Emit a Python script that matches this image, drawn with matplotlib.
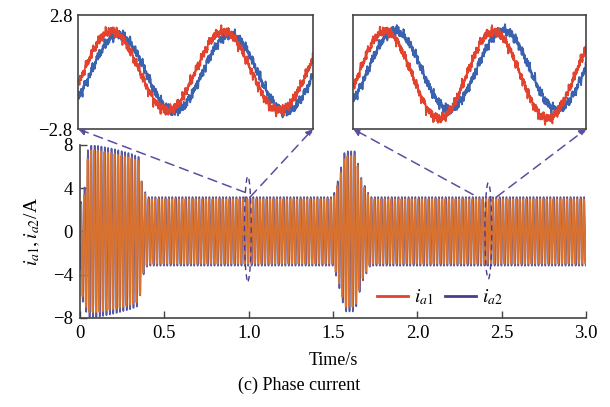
import numpy as np
import matplotlib.pyplot as plt
from matplotlib.lines import Line2D
from matplotlib.patches import ConnectionPatch, Ellipse

# ---- data ----
# envelope of the phase current (time in s, amplitude in A)
env_t = [0.0, 0.02, 0.05, 0.10, 0.20, 0.30, 0.35, 0.37, 0.40, 1.50, 1.53,
         1.57, 1.63, 1.67, 1.72, 3.0]
env_a = [3.5, 4.5, 7.5, 7.5, 7.2, 6.8, 6.5, 4.0, 3.0, 3.0, 4.5, 7.0, 7.0,
         4.5, 3.0, 3.0]
# start-up dc offset
off_t = [0.0, 0.02, 0.05]
off_v = [-1.0, -2.0, 0.0]
freq_hz = 50.0
lag_main = 0.12   # i_a2 lags i_a1, in cycles
amp_ratio2 = 1.06  # i_a2 peaks poke out of the i_a1 band

# zoomed windows (cycles shown, lag of i_a2, amplitudes, offsets)
zoom_centers = [0.995, 2.42]
zoom_cycles = [2.1, 2.15]
zoom_peak_c = [0.30, 0.295]      # where i_a1 peaks, in cycles from left edge
zoom_lag = [0.06, 0.09]
zoom_amp1 = [1.95, 2.15]
zoom_amp2 = [1.90, 1.95]
zoom_off1 = [0.05, -0.15]
zoom_off2 = [-0.05, 0.1]
# switching ripple on the zoomed traces
ripple_f = [17.3, 29.1, 43.7, 61.9, 83.3, 109.1, 151.7, 197.3, 263.9]
ripple_a = [0.07, 0.06, 0.07, 0.06, 0.05, 0.05, 0.05, 0.04, 0.04]
ripple_p = [0.0, 1.1, 2.3, 0.7, 4.1, 3.3, 5.2, 1.9, 2.8]

yticks = [-8, -4, 0, 4, 8]
xticks = [0, 0.5, 1.0, 1.5, 2.0, 2.5, 3.0]
xticklabels = ['0', '0.5', '1.0', '1.5', '2.0', '2.5', '3.0']

red = '#e2432e'
blue_in = '#3a62ae'
orange = '#d9722f'
purple = '#5558a2'
leg_purple = '#463c94'

plt.rcParams['font.family'] = ['Liberation Serif', 'DejaVu Serif']
plt.rcParams['mathtext.fontset'] = 'stix'

fig = plt.figure(figsize=(6.1, 4.07), dpi=100)

# ---- main axes ----
ax = fig.add_axes([0.131, 0.219, 0.830, 0.425])
t = np.arange(0, 3.0, 0.0004)
env = np.interp(t, env_t, env_a)
off = np.interp(t, off_t, off_v)
w = 2 * np.pi * freq_hz
ia1 = env * np.sin(w * t) + off
ia2 = amp_ratio2 * env * np.sin(w * t - 2 * np.pi * lag_main) + off
ax.plot(t, ia2, color=purple, lw=1.2)
ax.plot(t, ia1, color=orange, lw=1.2)

ax.set_xlim(0, 3.0)
ax.set_ylim(-8, 8)
ax.set_xticks(xticks)
ax.set_xticklabels(xticklabels)
ax.set_yticks(yticks)
ax.set_yticklabels(['\u22128', '\u22124', '0', '4', '8'])
ax.tick_params(direction='in', length=5, width=1, labelsize=13.5, pad=5,
               color='#444444')
for s in ['top', 'right']:
    ax.spines[s].set_visible(False)
for s in ['left', 'bottom']:
    ax.spines[s].set_color('#444444')
    ax.spines[s].set_linewidth(1.2)
ax.set_xlabel('Time/s', fontsize=13, labelpad=7)
ax.set_ylabel('$i_{a1}, i_{a2}$/A', fontsize=14, labelpad=8)

handles = [Line2D([], [], color=red, lw=2), Line2D([], [], color=leg_purple, lw=2)]
ax.legend(handles, ['$i_{a1}$', '$i_{a2}$'], loc='lower right',
          bbox_to_anchor=(0.87, -0.04), ncol=2, frameon=False, fontsize=14,
          handlelength=1.6, handletextpad=0.3, columnspacing=0.6)

# ---- zoom insets ----
inset_boxes = [[0.128, 0.683, 0.385, 0.280], [0.579, 0.683, 0.382, 0.280]]
line_ends = [[(0.98, 3.6), (1.01, 3.2)], [(2.33, 3.4), (2.47, 3.2)]]
ell_h = [9.7, 8.9]
ell_y = [0.25, 0.05]
for k, box in enumerate(inset_boxes):
    ins = fig.add_axes(box)
    c = np.linspace(0, zoom_cycles[k], 2500)
    rip1 = sum(a * np.sin(2 * np.pi * f * c + p)
               for f, a, p in zip(ripple_f, ripple_a, ripple_p))
    rip2 = sum(a * np.sin(2 * np.pi * f * c + 2 * p + 1.3)
               for f, a, p in zip(ripple_f, ripple_a, ripple_p))
    z0 = zoom_peak_c[k] - 0.25
    y1 = zoom_amp1[k] * np.sin(2 * np.pi * (c - z0)) + zoom_off1[k] + rip1
    y2 = zoom_amp2[k] * np.sin(2 * np.pi * (c - z0 - zoom_lag[k])) + zoom_off2[k] + rip2
    ins.plot(c, y2, color=blue_in, lw=1.3)
    ins.plot(c, y1, color=red, lw=1.3)
    ins.set_xlim(0, zoom_cycles[k])
    ins.set_ylim(-2.8, 2.8)
    ins.set_xticks([])
    if k == 0:
        ins.set_yticks([-2.8, 2.8])
        ins.set_yticklabels(['\u22122.8', '2.8'])
        ins.tick_params(length=0, labelsize=13.5, pad=4)
    else:
        ins.set_yticks([])
    for s in ins.spines.values():
        s.set_color('#444444')
        s.set_linewidth(1.2)

    # dashed ellipse on the main plot and connector lines
    ax.add_patch(Ellipse((zoom_centers[k], ell_y[k]), 0.04, ell_h[k],
                         fill=False, ls=(0, (4, 3)), lw=1, color=leg_purple,
                         zorder=5))
    for corner, end in zip([(0, 0), (1, 0)], line_ends[k]):
        cp = ConnectionPatch(xyA=end, coordsA=ax.transData, xyB=corner,
                             coordsB=ins.transAxes, arrowstyle='-|>',
                             ls=(0, (6, 4)), lw=1.1, color='#5a4ea0',
                             mutation_scale=10)
        fig.add_artist(cp)

fig.text(0.49, 0.054, '(c) Phase current', ha='center', va='center',
         fontsize=13)

fig.savefig('out.png', dpi=100)
